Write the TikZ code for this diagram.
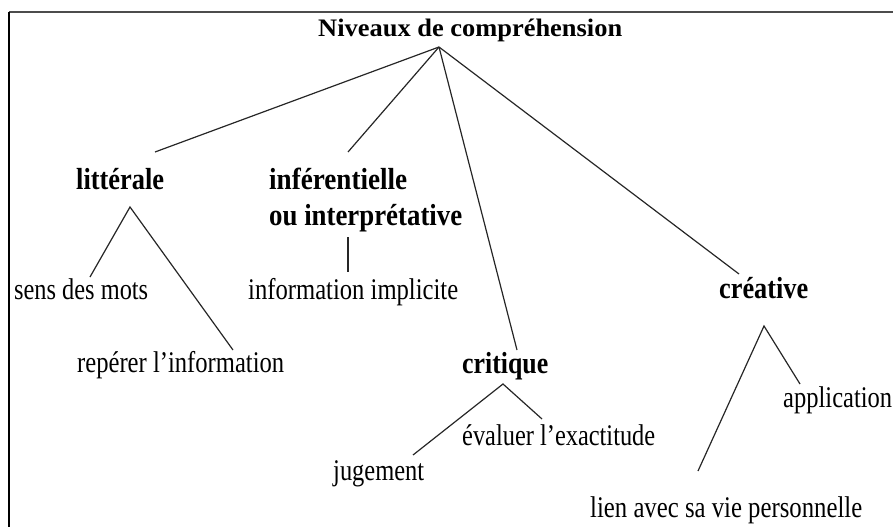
\documentclass[tikz,border=0pt]{standalone}
\usepackage{fontspec}
\setmainfont{Liberation Serif}
\usepackage{graphicx}
\newcommand{\fitw}[3][1]{\resizebox{#2pt}{#1\height}{#3}}
\begin{document}
\begin{tikzpicture}[x=1pt,y=-1pt,
  lbl/.style={inner sep=0pt,anchor=base west,font=\fontsize{25}{28}\selectfont},
  blbl/.style={inner sep=0pt,anchor=base west,font=\fontsize{24}{28}\selectfont\bfseries},
  link/.style={line width=1.2pt,black!85}]
\useasboundingbox (0,0) rectangle (893,527);
% frame (only top and left edges visible)
\draw[line width=2pt,black!70] (9,12.5) -- (893,12.5);
\draw[line width=1.5pt] (9,12) -- (9,527);
% texts
\node[blbl] (root) at (318,37) {\fitw[1.05]{304}{Niveaux de compréhension}};
\node[blbl] (lit) at (76,189) {\fitw[1.27]{88}{littérale}};
\node[blbl] (inf1) at (269,189) {\fitw[1.27]{138}{inférentielle}};
\node[blbl] (inf2) at (269,225) {\fitw[1.27]{193}{ou interprétative}};
\node[blbl] (crit) at (462,373) {\fitw[1.27]{86}{critique}};
\node[blbl] (crea) at (719,298) {\fitw[1.27]{89}{créative}};
\node[lbl] (sens) at (14,299) {\fitw[1.2]{134}{sens des mots}};
\node[lbl] (rep) at (77,372) {\fitw[1.2]{207}{repérer l’information}};
\node[lbl] (impl) at (248,299) {\fitw[1.2]{210}{information implicite}};
\node[lbl] (eval) at (462,445) {\fitw[1.2]{193}{évaluer l’exactitude}};
\node[lbl] (jug) at (333,480) {\fitw[1.2]{91}{jugement}};
\node[lbl] (app) at (783,407) {\fitw[1.2]{109}{application}};
\node[lbl] (lien) at (590,517) {\fitw[1.2]{272}{lien avec sa vie personnelle}};
% connector end points
\coordinate (rootP) at (439,47);
\coordinate (litT) at (155,152);
\coordinate (infT) at (348,152);
\coordinate (critT) at (517,350);
\coordinate (creaT) at (739,274);
\coordinate (litP) at (130,207);
\coordinate (sensE) at (90,277);
\coordinate (repE) at (233,350);
\coordinate (infB) at (348,237);
\coordinate (implE) at (348,272);
\coordinate (critP) at (503,384);
\coordinate (evalE) at (542,419);
\coordinate (jugE) at (413,455);
\coordinate (creaP) at (764,326);
\coordinate (appE) at (800,384);
\coordinate (lienE) at (698,471);
% connectors
\draw[link] (rootP) -- (litT);
\draw[link] (rootP) -- (infT);
\draw[link] (rootP) -- (critT);
\draw[link] (rootP) -- (creaT);
\draw[link] (sensE) -- (litP) -- (repE);
\draw[link] (infB) -- (implE);
\draw[link] (jugE) -- (critP) -- (evalE);
\draw[link] (lienE) -- (creaP) -- (appE);
\end{tikzpicture}
\end{document}
